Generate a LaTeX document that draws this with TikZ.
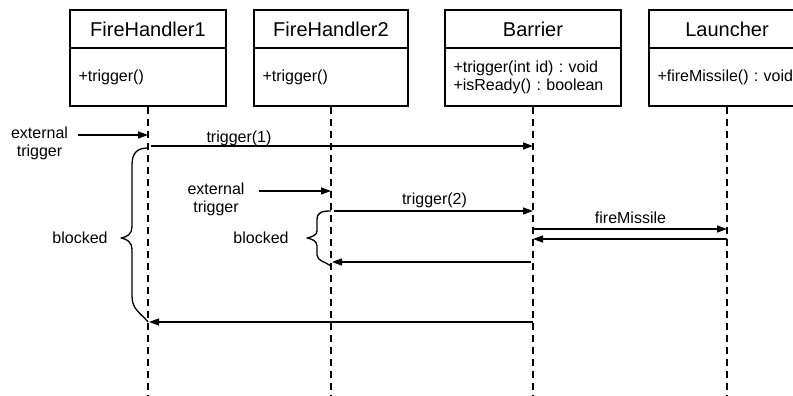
\documentclass[tikz,border=0pt]{standalone}
\usepackage{fontspec}
\setmainfont{Liberation Sans}
\usetikzlibrary{arrows.meta}
\frenchspacing
\begin{document}
\begin{tikzpicture}[x=1pt,y=-1pt,
  every node/.style={font=\fontsize{16}{18}\selectfont, text=black},
  headbox/.style={draw, line width=1.3pt, minimum height=38pt, inner sep=0pt,
    font=\fontsize{20}{24}\selectfont},
  bodybox/.style={draw, line width=1.3pt, minimum height=58pt, inner xsep=8.5pt,
    inner ysep=0pt, align=left},
  lifeline/.style={line width=1.3pt, dash pattern=on 7pt off 5pt},
  msg/.style={line width=1.3pt, -{Triangle[length=10pt,width=7pt]}},
  msglabel/.style={inner sep=0pt, align=center},
  bracestyle/.style={line width=1.3pt, line join=round}
]
\useasboundingbox (0,0) rectangle (793,396);
\clip (0,0) rectangle (793,396);

% class boxes: name compartment and operations compartment
\node[headbox, minimum width=156pt] (fh1h) at (148,29) {FireHandler1};
\node[bodybox, text width=139pt] (fh1b) at (148,77) {+trigger()};

\node[headbox, minimum width=154pt] (fh2h) at (331,29) {FireHandler2};
\node[bodybox, text width=137pt] (fh2b) at (331,77) {+trigger()};

\node[headbox, minimum width=176pt] (barh) at (533,29) {Barrier};
\node[bodybox, text width=159pt] (barb) at (533,77)
  {+trigger(int id) : void\\+isReady() : boolean};

\node[headbox, minimum width=156pt] (lauh) at (727,29) {Launcher};
\node[bodybox, text width=139pt] (laub) at (727,77) {+fireMissile() : void};

% lifelines
\coordinate (fh1end) at (148,396);
\coordinate (fh2end) at (331,396);
\coordinate (barend) at (533,396);
\coordinate (lauend) at (727,396);
\draw[lifeline] (fh1b.south) -- (fh1end);
\draw[lifeline] (fh2b.south) -- (fh2end);
\draw[lifeline] (barb.south) -- (barend);
\draw[lifeline] (laub.south) -- (lauend);

% message end points
\coordinate (ext1s) at (78,135);
\coordinate (ext1t) at (148,135);
\coordinate (trg1s) at (151,146);
\coordinate (trg1t) at (533,146);
\coordinate (ext2s) at (259,191);
\coordinate (ext2t) at (331,191);
\coordinate (trg2s) at (334,211);
\coordinate (trg2t) at (533,211);
\coordinate (firs) at (533,229);
\coordinate (firt) at (727,229);
\coordinate (ret1s) at (727,239);
\coordinate (ret1t) at (533,239);
\coordinate (ret2s) at (531,262);
\coordinate (ret2t) at (332,262);
\coordinate (ret3s) at (533,322);
\coordinate (ret3t) at (149,322);

\draw[msg] (ext1s) -- (ext1t);
\draw[msg] (trg1s) -- (trg1t);
\draw[msg] (ext2s) -- (ext2t);
\draw[msg] (trg2s) -- (trg2t);
\draw[msg] (firs) -- (firt);
\draw[msg] (ret1s) -- (ret1t);
\draw[msg] (ret2s) -- (ret2t);
\draw[msg] (ret3s) -- (ret3t);

% labels
\node[msglabel] (ext1l) at (39.5,143.5) {external\\trigger};
\node[msglabel] (ext2l) at (216,199.5) {external\\trigger};
\node[msglabel] (trg1l) at (239,138) {trigger(1)};
\node[msglabel] (trg2l) at (434.5,200) {trigger(2)};
\node[msglabel] (firl) at (630.5,218) {fireMissile};
\node[msglabel] (blk1) at (80,238) {blocked};
\node[msglabel] (blk2) at (261,238) {blocked};

% braces marking the blocked intervals
\coordinate (br1top) at (148,148);
\coordinate (br1bot) at (148,322);
\draw[bracestyle] (br1top) .. controls (138,148) and (132,152) .. (132,165)
  -- (132,227) .. controls (132,234) and (127,237) .. (121,238)
  .. controls (127,239) and (132,242) .. (132,250)
  -- (132,296) .. controls (132,310) and (141,313) .. (br1bot);

\coordinate (br2top) at (331,211);
\coordinate (br2bot) at (331,266);
\draw[bracestyle] (br2top) .. controls (322,211) and (317,212) .. (317,220)
  -- (317,231) .. controls (317,235) and (312,237) .. (307,238)
  .. controls (312,239) and (317,241) .. (317,246)
  -- (317,255) .. controls (317,261) and (326,262) .. (br2bot);
\end{tikzpicture}
\end{document}
